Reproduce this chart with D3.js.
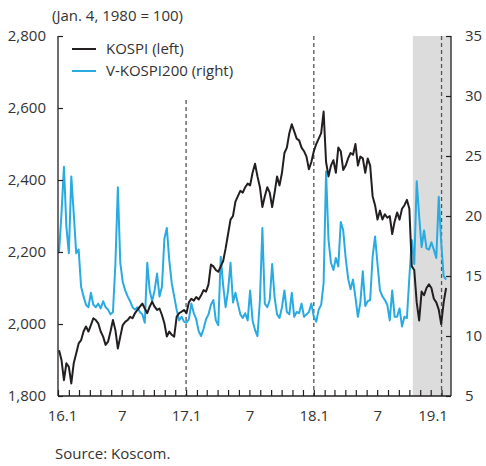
<!DOCTYPE html>
<html>
<head>
<meta charset="utf-8">
<script src="https://cdn.jsdelivr.net/npm/d3@7/dist/d3.min.js"></script>
<style>
  html, body { margin: 0; padding: 0; background: #fff; }
  svg { display: block; }
  text { font-family: "Open Sans", "Noto Sans", sans-serif; fill: #333; }
</style>
</head>
<body>
<svg id="chart" width="486" height="466"></svg>
<script>
// Weekly observations starting Monday 4 Jan 2016
const firstWeek = "2016-01-04";

// KOSPI index level (left axis)
const kospi = [
  1927,1900,1844,1891,1881,1835,1891,1918,1946,1955,1979,1993,1979,1997,2016,2011,2002,1979,1965,1942,
  1951,1979,2011,1983,1932,1965,1997,2006,2011,2020,2016,2030,2039,2048,2057,2043,2030,2048,2062,2048,
  2039,2043,2025,2002,1965,1979,1970,1965,2020,2030,2034,2039,2030,
  2060,2070,2065,2075,2068,2080,2094,2090,2110,2165,2160,2150,2145,2160,2175,2210,2250,2290,2300,2340,
  2355,2370,2365,2380,2390,2385,2420,2445,2410,2380,2325,2355,2380,2365,2325,2365,2410,2385,2420,2475,
  2490,2530,2555,2535,2515,2510,2490,2480,2465,2430,2450,
  2480,2500,2515,2530,2590,2450,2410,2440,2455,2420,2490,2480,2428,2440,2460,2475,2470,2500,2440,2465,
  2460,2420,2460,2440,2355,2330,2290,2315,2290,2305,2295,2300,2250,2285,2310,2290,2320,2330,2345,2320,
  2160,2150,2060,2010,2090,2080,2100,2110,2100,2070,2060,2040,2000,2060,2100
];

// V-KOSPI200 volatility index (right axis)
const vkospi = [
  17.0,20.2,24.1,19.1,16.9,23.3,20.2,16.9,17.2,14.1,13.3,12.6,12.4,13.6,12.6,12.4,12.7,12.3,12.9,12.4,
  12.2,11.8,12.0,16.0,22.4,16.1,14.5,13.8,13.3,12.9,12.4,12.2,12.4,12.0,11.8,11.1,16.1,13.8,12.9,13.8,
  15.2,13.3,14.1,18.1,19.0,16.3,14.4,13.3,12.2,11.3,11.6,11.2,11.1,
  11.4,12.7,11.9,11.4,10.4,10.0,10.6,11.4,11.8,12.6,13.0,11.3,10.9,16.6,14.2,12.4,13.8,16.1,12.8,13.6,
  12.7,11.8,11.5,11.9,11.3,13.8,11.3,10.5,10.0,13.0,19.0,12.7,12.4,13.0,16.0,13.2,11.8,11.5,12.4,13.8,
  12.0,11.8,13.6,11.6,12.0,11.9,12.7,11.6,11.8,12.0,12.7,
  11.6,11.2,12.2,12.6,14.4,23.7,18.0,16.1,15.5,16.5,15.8,19.5,18.8,16.5,14.8,13.9,14.7,13.2,11.6,12.8,
  15.4,12.5,12.9,13.0,16.6,18.3,16.0,13.8,13.3,13.0,12.6,11.3,13.8,11.6,11.6,12.3,10.8,11.6,11.5,14.9,
  18.0,16.0,22.9,20.0,17.4,18.8,17.3,17.2,17.8,17.2,16.5,21.6,17.8,15.0,14.7
];

const leftTicks = [1800, 2000, 2200, 2400, 2600, 2800];
const rightTicks = [5, 10, 15, 20, 25, 30, 35];
const xDomain = ["2016-01-01", "2019-01-28"];
const yearMarks = ["2017-01-01", "2018-01-01", "2019-01-01"];
const shadedFrom = "2018-10-11";
const seriesNames = ["KOSPI (left)", "V-KOSPI200 (right)"];
const unitNote = "(Jan. 4, 1980 = 100)";
const sourceNote = "Source: Koscom.";

const parse = d3.timeParse("%Y-%m-%d");
const start = parse(firstWeek);
const dates = kospi.map((_, i) => d3.timeDay.offset(start, 7 * i));

const svg = d3.select("#chart");
const m = { left: 58, right: 451, top: 36, bottom: 396 };

const x = d3.scaleTime().domain(xDomain.map(parse)).range([m.left, m.right]);
const yL = d3.scaleLinear().domain([1800, 2800]).range([m.bottom, m.top]);
const yR = d3.scaleLinear().domain([5, 35]).range([m.bottom, m.top]);

const ink = "#231f20";

// shaded period
svg.append("rect")
  .attr("x", x(parse(shadedFrom)))
  .attr("y", m.top)
  .attr("width", m.right - x(parse(shadedFrom)))
  .attr("height", m.bottom - m.top)
  .attr("fill", "#dcdcdd");

// year boundary guides
yearMarks.forEach((d, i) => {
  svg.append("line")
    .attr("x1", x(parse(d))).attr("x2", x(parse(d)))
    .attr("y1", i === 0 ? 100 : m.top).attr("y2", m.bottom)
    .attr("stroke", "#555").attr("stroke-width", 1.3)
    .attr("stroke-dasharray", "4,3");
});

// series
const lineR = d3.line().x((d, i) => x(dates[i])).y(d => yR(d));
const lineL = d3.line().x((d, i) => x(dates[i])).y(d => yL(d));

svg.append("path").datum(vkospi)
  .attr("d", lineR).attr("fill", "none")
  .attr("stroke", "#29abe2").attr("stroke-width", 2).attr("stroke-linejoin", "round");

svg.append("path").datum(kospi)
  .attr("d", lineL).attr("fill", "none")
  .attr("stroke", ink).attr("stroke-width", 2).attr("stroke-linejoin", "round");

// axes
const fmt = d3.format(",");
const gL = svg.append("g").attr("transform", `translate(${m.left},0)`)
  .call(d3.axisLeft(yL).tickValues(leftTicks).tickFormat(fmt).tickSize(-5).tickPadding(12));
const gR = svg.append("g").attr("transform", `translate(${m.right},0)`)
  .call(d3.axisRight(yR).tickValues(rightTicks).tickSize(-5).tickPadding(14));

const months = d3.timeMonth.range(parse("2016-01-01"), parse("2019-01-02"));
const monthLabel = d => d.getMonth() === 0 ? d3.timeFormat("%y")(d) + ".1" : (d.getMonth() === 6 ? "7" : "");
const gX = svg.append("g").attr("transform", `translate(0,${m.bottom})`)
  .call(d3.axisBottom(x).tickValues(months).tickFormat(monthLabel).tickSize(-6).tickPadding(14));

[gL, gR, gX].forEach(g => {
  g.select(".domain").attr("stroke", ink).attr("stroke-width", 1.3);
  g.selectAll(".tick line").attr("stroke", ink).attr("stroke-width", 1.2);
  g.selectAll("text").attr("font-size", 15).attr("fill", "#333")
    .style("font-family", '"Open Sans", sans-serif');
});
gL.select(".domain").attr("d", `M0,${m.top}V${m.bottom}`);
gR.select(".domain").attr("d", `M0,${m.top}V${m.bottom}`);
gX.select(".domain").attr("d", `M${m.left},0H${m.right}`);
gX.selectAll(".tick text").attr("dy", "0.71em");
gX.selectAll(".tick text").filter(d => +d === +parse("2016-01-01")).attr("dx", 4);
gX.selectAll(".tick text").filter(d => +d === +parse("2019-01-01")).attr("dx", -9);

// legend
const legend = [
  { name: seriesNames[0], color: ink, y: 49 },
  { name: seriesNames[1], color: "#29abe2", y: 71 }
];
legend.forEach(l => {
  svg.append("line").attr("x1", 72).attr("x2", 96).attr("y1", l.y).attr("y2", l.y)
    .attr("stroke", l.color).attr("stroke-width", 2);
  svg.append("text").attr("x", 106).attr("y", l.y + 5).attr("font-size", 15).text(l.name);
});

svg.append("text").attr("x", 52).attr("y", 21).attr("font-size", 15).text(unitNote);
svg.append("text").attr("x", 55).attr("y", 459).attr("font-size", 15).text(sourceNote);
</script>
</body>
</html>
